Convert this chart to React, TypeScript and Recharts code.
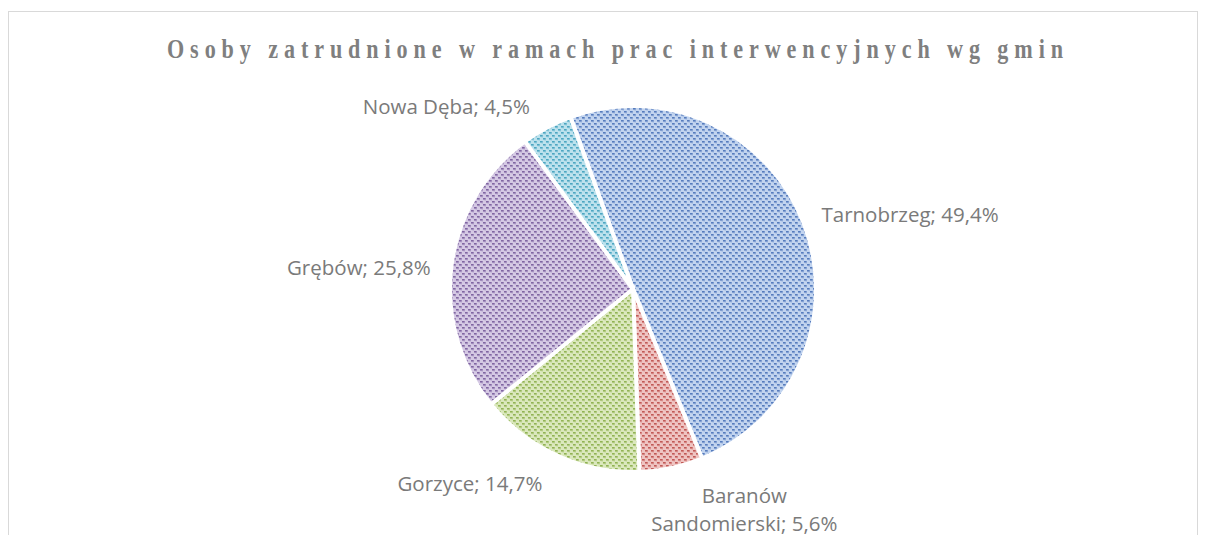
import React from 'react';
import { PieChart, Pie, Cell } from 'recharts';

const TITLE = 'Osoby zatrudnione w ramach prac interwencyjnych wg gmin';

const gminy = ['Tarnobrzeg', 'Baranów\nSandomierski', 'Gorzyce', 'Grębów', 'Nowa Dęba'];
const udzialy = [49.4, 5.6, 14.7, 25.8, 4.5];

const data = gminy.map((name, i) => ({ name, value: udzialy[i] }));

// light tint + dark dots for the Excel-like dotted fill
const LIGHT = ['#c2d4ef', '#efc4c2', '#dbe8bd', '#d5c9e4', '#bde2ed'];
const DARK = ['#4a72b8', '#bd4f4b', '#8aad48', '#775b9b', '#3fa0bd'];

// nudges for the outside labels (dx, dy from the point just outside the slice)
const LABEL_NUDGE = [
  { dx: 0, dy: 6, anchor: 'start' },
  { dx: 69, dy: 16, anchor: 'middle' },
  { dx: -7, dy: 18, anchor: 'end' },
  { dx: -2, dy: 12, anchor: 'end' },
  { dx: -8, dy: 3, anchor: 'end' },
];

const RAD = Math.PI / 180;
const fmt = (v: number) => v.toFixed(1).replace('.', ',') + '%';

const renderLabel = (props: any) => {
  const { cx, cy, midAngle, outerRadius, index, value, name } = props;
  const r = outerRadius + 19;
  const x = cx + r * Math.cos(-midAngle * RAD);
  const y = cy + r * Math.sin(-midAngle * RAD);
  const n = LABEL_NUDGE[index];
  const lines = String(name).split('\n');
  lines[lines.length - 1] += '; ' + fmt(value);
  return (
    <text
      x={x + n.dx}
      y={y + n.dy}
      textAnchor={n.anchor as any}
      fill="#7a7a7a"
      fontSize={20.5}
      fontFamily="'Open Sans', sans-serif"
    >
      {lines.map((l, k) => (
        <tspan key={k} x={x + n.dx} dy={k === 0 ? 0 : 28}>
          {l}
        </tspan>
      ))}
    </text>
  );
};

export default function App() {
  return (
    <div
      style={{
        height: 535,
        boxSizing: 'border-box',
        paddingTop: 3,
        overflow: 'hidden',
        marginBottom: -8,
      }}
    >
      <div
        style={{
          width: 1190,
          height: 600,
          boxSizing: 'border-box',
          border: '1px solid #d9d9d9',
          background: '#fff',
        }}
      >
        <PieChart width={1188} height={560} style={{ overflow: 'visible' }}>
          <defs>
            {LIGHT.map((c, i) => (
              <pattern key={i} id={`pat-${i}`} width={6} height={6} patternUnits="userSpaceOnUse">
                <rect width={6} height={6} fill={c} />
                <rect x={0} y={0} width={2.7} height={1.6} fill={DARK[i]} opacity={0.9} />
                <rect x={3} y={3} width={2.7} height={1.6} fill={DARK[i]} opacity={0.9} />
                <rect x={1.5} y={1.5} width={1.4} height={1.1} fill={DARK[i]} opacity={0.3} />
                <rect x={4.5} y={4.5} width={1.4} height={1.1} fill={DARK[i]} opacity={0.3} />
              </pattern>
            ))}
          </defs>
          <text
            x={0}
            y={0}
            transform="translate(158,46) scale(0.82,1)"
            textLength={896 / 0.82}
            lengthAdjust="spacing"
            fill="#7f7f7f"
            fontSize={27}
            fontWeight="bold"
            fontFamily="'Liberation Serif', 'Times New Roman', serif"
          >
            {TITLE}
          </text>
          <Pie
            data={data}
            dataKey="value"
            nameKey="name"
            cx={619}
            cy={272}
            outerRadius={183}
            startAngle={110}
            endAngle={-250}
            stroke="#ffffff"
            strokeWidth={4}
            label={renderLabel}
            labelLine={false}
            isAnimationActive={false}
          >
            {data.map((_, i) => (
              <Cell key={`cell-${i}`} fill={`url(#pat-${i})`} />
            ))}
          </Pie>
        </PieChart>
      </div>
    </div>
  );
}
